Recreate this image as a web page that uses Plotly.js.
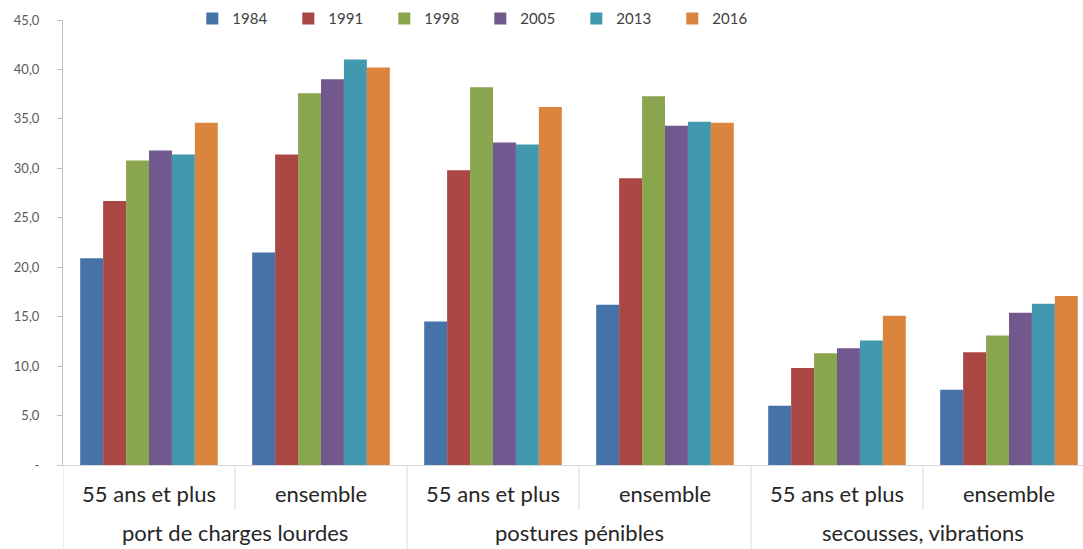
<!DOCTYPE html>
<html>
<head>
<meta charset="utf-8">
<script src="https://cdn.plot.ly/plotly-3.0.1.min.js"></script>
<style>html,body{margin:0;padding:0;background:#fff;overflow:hidden}#chart{width:1095px;height:549px}</style>
</head>
<body>
<div id="chart"></div>
<script>
const outerLabels = ["port de charges lourdes","port de charges lourdes","postures pénibles","postures pénibles","secousses, vibrations","secousses, vibrations"];
const innerLabels = ["55 ans et plus","ensemble","55 ans et plus","ensemble","55 ans et plus","ensemble"];
const years = ["1984","1991","1998","2005","2013","2016"];
const v1984 = [20.9, 21.5, 14.5, 16.2, 6.0, 7.6];
const v1991 = [26.7, 31.4, 29.8, 29.0, 9.8, 11.4];
const v1998 = [30.8, 37.6, 38.2, 37.3, 11.3, 13.1];
const v2005 = [31.8, 39.0, 32.6, 34.3, 11.8, 15.4];
const v2013 = [31.4, 41.0, 32.4, 34.7, 12.6, 16.3];
const v2016 = [34.6, 40.2, 36.2, 34.6, 15.1, 17.1];
const colors = ["#4572A7","#AA4643","#89A54E","#71588F","#4198AF","#DB843D"];
const yTickVals = [0,5,10,15,20,25,30,35,40,45];
const yTickText = ["-","5,0","10,0","15,0","20,0","25,0","30,0","35,0","40,0","45,0"];

// category positions on the x axis (one slot per inner label)
const xPos = innerLabels.map((_, i) => i);

const series = [v1984, v1991, v1998, v2005, v2013, v2016];
const traces = series.map((vals, i) => ({
  type: "bar",
  name: years[i],
  x: xPos,
  y: vals,
  marker: {color: colors[i], line: {width: 0}},
  hoverinfo: "y+name"
}));

// group structure derived from the outer labels
const groups = [];
outerLabels.forEach((lab, i) => {
  const g = groups[groups.length - 1];
  if (g && g.label === lab) g.end = i; else groups.push({label: lab, start: i, end: i});
});

const lineColor = "#d9d9d9";
const shapes = [];
// inner dividers (between inner labels of the same group)
groups.forEach(g => {
  for (let i = g.start; i < g.end; i++) {
    shapes.push({type: "line", xref: "x", yref: "paper", x0: i + 0.5, x1: i + 0.5, y0: 0, y1: -0.101,
      line: {color: lineColor, width: 1}});
  }
});
// outer dividers (group boundaries)
const bounds = [groups[0].start - 0.5].concat(groups.map(g => g.end + 0.5));
bounds.forEach(b => {
  shapes.push({type: "line", xref: "x", yref: "paper", x0: b, x1: b, y0: 0, y1: -0.2,
    line: {color: lineColor, width: 1}});
});

const annotations = groups.map(g => ({
  xref: "x", yref: "paper",
  x: (g.start + g.end) / 2, y: -0.151,
  xanchor: "center", yanchor: "middle",
  text: g.label, showarrow: false,
  font: {size: 22, color: "#262626", family: "Lato, sans-serif"}
}));

const layout = {
  width: 1095, height: 549,
  margin: {l: 63, r: 0, t: 20, b: 84},
  paper_bgcolor: "#ffffff",
  plot_bgcolor: "#ffffff",
  font: {family: "Lato, 'Open Sans', sans-serif", color: "#262626"},
  barmode: "group",
  bargap: 0.2,
  bargroupgap: 0,
  showlegend: true,
  legend: {
    orientation: "h",
    x: 0.1253, xanchor: "left",
    y: 1.003, yanchor: "middle",
    entrywidth: 51, entrywidthmode: "pixels",
    font: {size: 15, color: "#404040"},
    itemwidth: 30,
    bgcolor: "rgba(0,0,0,0)"
  },
  xaxis: {
    range: [-0.5, xPos.length - 0.5],
    tickvals: xPos, ticktext: innerLabels,
    showline: true, linecolor: lineColor, linewidth: 1,
    ticks: "",
    ticklabelstandoff: 10,
    tickfont: {size: 22, color: "#262626"},
    showgrid: false, zeroline: false
  },
  yaxis: {
    range: [0, 45],
    tickvals: yTickVals, ticktext: yTickText,
    showline: true, linecolor: "#bfbfbf", linewidth: 1,
    ticks: "outside", ticklen: 5, tickcolor: "#bfbfbf",
    tickfont: {size: 13, color: "#595959"},
    ticklabelstandoff: 15,
    showgrid: false, zeroline: false
  },
  shapes: shapes,
  annotations: annotations
};

Plotly.newPlot("chart", traces, layout, {displayModeBar: false, staticPlot: true});
</script>
</body>
</html>
